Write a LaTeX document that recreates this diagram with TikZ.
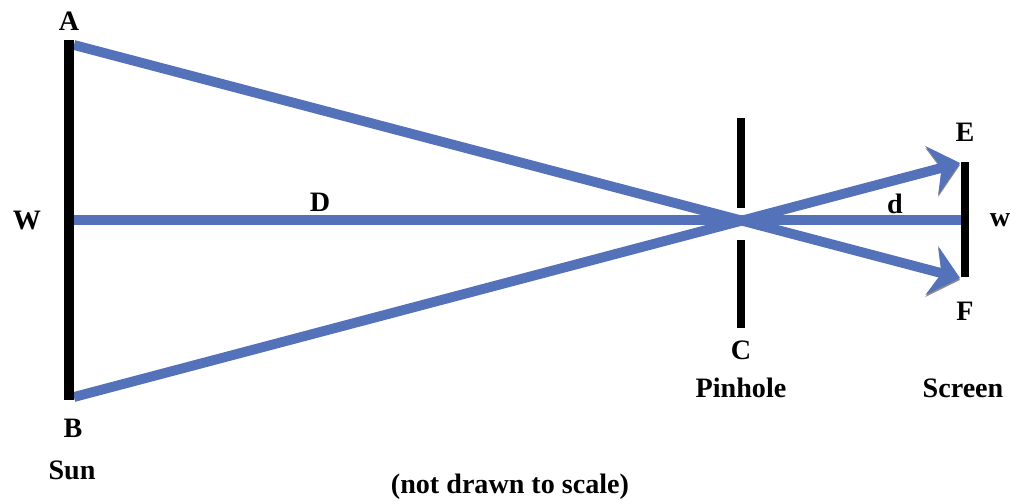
\documentclass[tikz,border=0pt]{standalone}
\usepackage{fontspec}
\setmainfont{Liberation Serif}
\usetikzlibrary{positioning,arrows.meta}
\definecolor{RayBlue}{RGB}{84,114,186}
\definecolor{RayShade}{RGB}{140,140,140}
\tikzset{
  ray/.style={line width=5.6pt,draw=RayBlue,
    preaction={draw=RayShade,transform canvas={yshift=-1.1pt}}},
  arrowray/.style={ray,-{Stealth[length=5.8mm,width=10mm,inset=2mm]}},
  bar/.style={line width=5.8pt,draw=black},
  slit/.style={line width=4.6pt,draw=black},
  lbl/.style={font=\fontsize{16}{18}\selectfont\bfseries,inner sep=1pt}
}
\begin{document}
\begin{tikzpicture}[x=0.02cm,y=-0.02cm]
  \useasboundingbox (0,0) rectangle (1011,501);
  % sun and rays
  \coordinate (sunTop) at (69,40);
  \coordinate (sunBot) at (69,400);
  \coordinate (rayA) at (74,45);
  \coordinate (rayB) at (74,397);
  \coordinate (rayW) at (74,220);
  \coordinate (tipE) at (960,163);
  \coordinate (tipF) at (960,278);
  \coordinate (rayw) at (962,220);
  % pinhole and screen
  \coordinate (holeTop1) at (741,118);
  \coordinate (holeTop2) at (741,208);
  \coordinate (holeBot1) at (741,240);
  \coordinate (holeBot2) at (741,328);
  \coordinate (scrTop) at (965,162);
  \coordinate (scrBot) at (965,277);

  \draw[ray] (rayW) -- (rayw);
  \draw[arrowray] (rayA) -- (tipF);
  \draw[arrowray] (rayB) -- (tipE);
  \draw[bar] (sunTop) -- (sunBot);
  \draw[slit] (holeTop1) -- (holeTop2);
  \draw[slit] (holeBot1) -- (holeBot2);
  \draw[slit] (scrTop) -- (scrBot);

  \node[lbl] (A) at (69,21) {A};
  \node[lbl] (B) at (73,428) {B};
  \node[lbl] (W) at (27,221) {W};
  \node[lbl] (sun) at (72,470) {Sun};
  \node[lbl] (D) at (320,202) {D};
  \node[lbl] (d) at (895,204) {d};
  \node[lbl] (w) at (1000,220) {w};
  \node[lbl] (E) at (965,132) {E};
  \node[lbl] (F) at (965,311) {F};
  \node[lbl] (C) at (741,350) {C};
  \node[lbl] (pinhole) at (741,388) {Pinhole};
  \node[lbl] (screen) at (963,388) {Screen};
  \node[lbl] (note) at (510,487) {(not drawn to scale)};
\end{tikzpicture}
\end{document}
